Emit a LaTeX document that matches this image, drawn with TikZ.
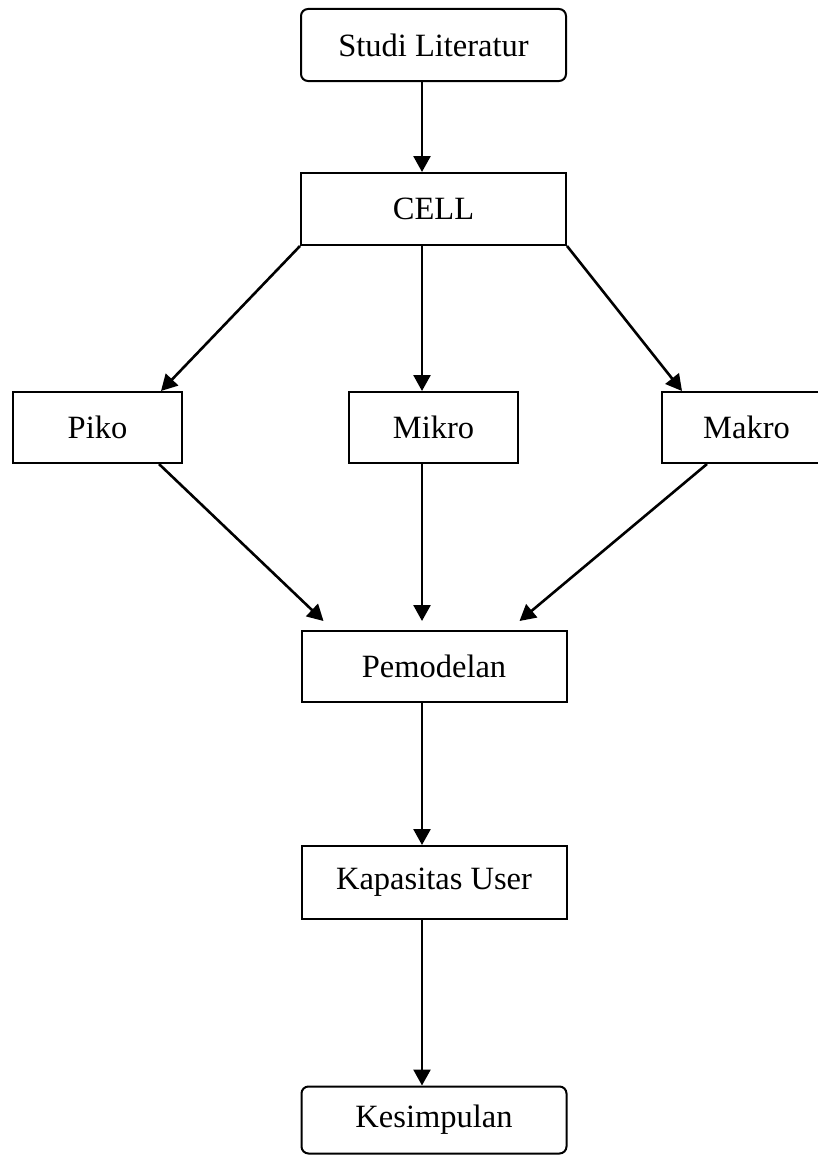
\documentclass[tikz,border=0pt]{standalone}
\usepackage{fontspec}
\setmainfont{Liberation Serif}
\usetikzlibrary{arrows.meta}
\begin{document}
\begin{tikzpicture}[x=1pt,y=-1pt,
  box/.style={draw, line width=2pt, inner sep=0pt, font=\fontsize{32.5}{38}\selectfont},
  wide/.style={box, minimum width=265pt, minimum height=72pt},
  small/.style={box, minimum width=169pt, minimum height=71pt},
  rbox/.style={wide, rounded corners=7pt},
  arr/.style={line width=2.6pt, -{Triangle[length=16pt,width=17pt]}}]
\useasboundingbox (0,0) rectangle (818,1156);
\node[rbox] (studi) at (433.5,45) {Studi Literatur};
\node[wide] (cell) at (433.5,209) {CELL};
\node[small] (piko) at (97.5,427.5) {Piko};
\node[small] (mikro) at (433.5,427.5) {Mikro};
\node[small] (makro) at (746.5,427.5) {Makro};
\node[wide, minimum height=71pt] (pemod) at (434,666.5) {Pemodelan};
\node[wide, minimum height=73pt] (kap) at (434,882.5) {Kapasitas User};
\node[rbox, minimum height=67pt] (kes) at (434,1120) {Kesimpulan};
\draw[arr] ([xshift=-11.5pt]studi.south) -- ([xshift=-11.5pt]cell.north);
\draw[arr] (cell.south west) -- ([xshift=-22pt]piko.north east);
\draw[arr] ([xshift=-11.5pt]cell.south) -- ([xshift=-11.5pt]mikro.north);
\draw[arr] (cell.south east) -- ([xshift=21pt]makro.north west);
\draw[arr] ([xshift=-24pt]piko.south east) -- ([xshift=23pt,yshift=9pt]pemod.north west);
\draw[arr] ([xshift=-11.5pt]mikro.south) -- ([xshift=-12pt,yshift=9pt]pemod.north);
\draw[arr] ([xshift=46pt]makro.south west) -- ([xshift=-48pt,yshift=9pt]pemod.north east);
\draw[arr] ([xshift=-12pt]pemod.south) -- ([xshift=-12pt]kap.north);
\draw[arr] ([xshift=-12pt]kap.south) -- ([xshift=-12pt]kes.north);
\end{tikzpicture}
\end{document}
